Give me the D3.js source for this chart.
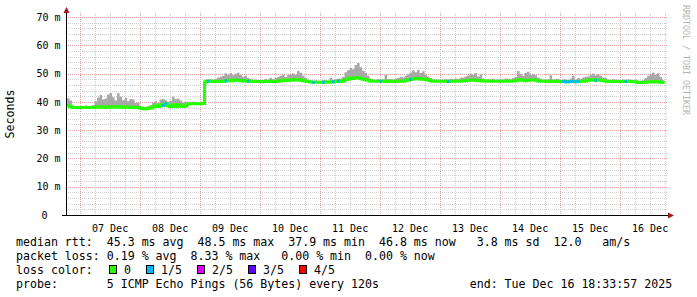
<!DOCTYPE html>
<html>
<head>
<meta charset="utf-8">
<script src="https://cdn.jsdelivr.net/npm/d3@7/dist/d3.min.js"></script>
<style>
  body { margin: 0; background: #fff; }
  text { font-family: "DejaVu Sans Mono", monospace; }
</style>
</head>
<body>
<svg id="chart" width="697" height="297"></svg>
<script>
// hourly samples, first one at Dec 6 19:00 (UTC), last one Dec 16 18:00
const firstSample = Date.UTC(2025, 11, 6, 19, 0, 0);
const endTime = new Date(Date.UTC(2025, 11, 16, 18, 33, 57));
const startTime = new Date(endTime.getTime() - 10 * 864e5);

// median rtt in ms, one value per hour
const medianRtt = [
  38.6,38.3,38.0,38.0,38.0,
  // 07 Dec
  38.0,38.0,38.0,38.0,38.0,38.0,38.2,38.1,38.3,38.2,38.0,38.1,38.3,38.2,38.1,38.4,38.2,38.0,38.1,38.2,38.0,38.1,38.0,38.0,
  // 08 Dec
  37.7,37.6,37.6,37.7,37.8,38.3,38.6,38.4,39.0,38.7,39.4,38.6,38.4,38.9,38.3,39.0,38.5,38.4,38.6,39.2,39.3,39.3,39.3,39.3,
  // 09 Dec
  39.3,39.4,47.0,47.3,47.3,47.2,47.3,47.2,47.2,47.3,47.4,47.5,47.6,47.5,47.7,47.6,47.5,47.4,47.5,47.3,47.3,47.2,47.2,47.2,
  // 10 Dec
  47.2,47.1,47.2,47.2,47.3,47.2,47.2,47.3,47.5,47.6,47.5,47.7,47.6,47.8,47.7,47.9,47.6,47.5,47.4,47.2,47.0,46.9,46.9,46.9,
  // 11 Dec
  46.9,46.9,47.0,46.9,47.0,47.1,47.2,47.3,47.2,47.4,47.8,48.1,48.4,48.3,48.6,48.4,48.3,48.0,47.8,47.6,47.4,47.3,47.3,47.3,
  // 12 Dec
  47.3,47.3,47.2,47.3,47.3,47.2,47.3,47.3,47.4,47.3,47.5,47.7,47.9,48.1,48.3,48.2,48.0,48.2,47.9,47.7,47.5,47.3,47.3,47.3,
  // 13 Dec
  47.3,47.3,47.3,47.2,47.3,47.3,47.3,47.3,47.4,47.4,47.5,47.6,47.6,47.7,47.6,47.5,47.6,47.4,47.4,47.3,47.3,47.3,47.3,47.3,
  // 14 Dec
  47.3,47.3,47.3,47.4,47.3,47.4,47.4,47.7,47.8,47.6,47.5,47.6,47.7,47.8,47.6,47.4,47.3,47.3,47.3,47.3,47.2,47.3,47.3,47.2,
  // 15 Dec
  47.2,47.2,47.1,47.1,47.2,47.2,47.1,47.2,47.3,47.3,47.4,47.6,47.8,47.7,47.6,47.8,47.6,47.5,47.4,47.2,47.2,47.2,47.2,47.2,
  // 16 Dec
  47.2,47.2,47.2,47.2,47.2,47.1,47.1,46.8,46.8,46.8,46.9,47.0,47.1,47.0,47.2,47.0,46.9,46.8,46.8
];

// top of the smoke (slowest ping) in ms, per hour
const smokeTop = [
  41.3,40.5,38.6,38.5,38.5,
  38.6,38.5,38.7,38.5,38.6,38.8,40.2,41.5,42.4,40.8,41.2,42.6,43.1,41.6,40.5,43.0,41.8,40.6,41.4,40.2,41.0,40.8,39.6,39.8,
  38.4,38.2,38.3,38.4,38.8,39.6,40.2,39.5,40.8,41.0,40.6,40.0,40.4,41.8,40.9,41.2,40.5,39.8,40.0,40.0,39.8,40.0,39.9,39.8,
  39.9,40.0,47.8,47.9,48.0,47.8,48.1,48.6,48.9,49.2,50.1,49.6,50.2,49.4,49.9,50.3,49.5,48.9,49.2,48.4,48.0,47.8,47.9,47.7,
  47.8,47.7,48.2,47.9,48.5,48.0,48.4,48.8,49.2,49.6,48.8,49.5,49.8,50.0,49.6,50.9,50.3,49.2,48.4,47.8,47.5,47.4,47.6,47.5,
  47.5,47.6,47.7,47.5,48.5,47.8,48.0,48.2,48.3,48.8,50.5,51.2,52.0,51.5,53.0,53.7,52.2,51.0,50.2,49.2,48.2,47.9,47.8,48.0,
  47.9,48.0,49.5,48.1,48.0,47.9,48.3,48.4,48.8,48.6,49.2,49.8,50.4,51.2,50.5,51.3,50.2,50.8,49.6,49.0,48.4,47.9,48.0,47.8,
  47.9,47.8,48.0,47.9,48.2,48.0,48.3,48.1,48.5,48.6,49.0,49.3,49.9,49.5,50.2,49.0,49.8,48.3,48.0,47.9,48.0,48.1,47.8,47.9,
  48.0,47.9,48.3,48.2,48.0,48.4,48.8,50.9,49.8,49.2,50.2,50.6,49.6,49.8,49.4,48.6,48.2,47.9,47.8,48.0,49.4,47.9,48.0,48.2,
  47.8,47.9,48.0,47.7,48.3,49.3,47.8,48.4,48.2,48.6,48.9,49.0,49.6,50.0,49.4,49.8,49.2,48.6,48.4,47.8,47.8,48.0,47.9,47.8,
  47.8,47.9,47.8,48.0,47.8,47.7,47.8,47.4,47.5,47.6,48.4,49.2,49.8,50.4,49.6,50.1,48.8,47.6,47.4
];

// hours (index into the arrays above) with packet loss, and lost pings of 5
const lossHours = [38, 39, 56, 63, 72, 98, 102, 106, 108, 125, 137, 152, 198, 199, 200, 201, 202, 203, 204, 211, 223];
const lossCounts = [1, 1, 1, 1, 1, 1, 1, 1, 1, 1, 1, 1, 1, 1, 1, 1, 1, 1, 1, 1, 1];

const lossLabels = ["0", "1/5", "2/5", "3/5", "4/5"];
const lossColors = ["#26ff00", "#00b8ff", "#dd00ff", "#5e00ff", "#ff0000"];

const yTicks = [0, 10, 20, 30, 40, 50, 60, 70];
const yTickLabels = ["0", "10 m", "20 m", "30 m", "40 m", "50 m", "60 m", "70 m"];
const xTickLabels = ["07 Dec", "08 Dec", "09 Dec", "10 Dec", "11 Dec", "12 Dec", "13 Dec", "14 Dec", "15 Dec", "16 Dec"];

const legendLines = [
  "median rtt:  45.3 ms avg  48.5 ms max  37.9 ms min  46.8 ms now   3.8 ms sd  12.0   am/s",
  "packet loss: 0.19 % avg  8.33 % max   0.00 % min  0.00 % now",
  "loss color:",
  "probe:       5 ICMP Echo Pings (56 Bytes) every 120s             end: Tue Dec 16 18:33:57 2025"
];

const svg = d3.select("#chart");
const plotLeft = 66, plotRight = 666, plotTop = 17, plotBottom = 215;

const x = d3.scaleUtc().domain([startTime, endTime]).range([plotLeft, plotRight]);
const y = d3.scaleLinear().domain([0, 70]).range([plotBottom, plotTop]);

const px = v => Math.round(v) + 0.5;
const data = medianRtt.map((m, i) => ({ t: new Date(firstSample + i * 3600e3), m: m, hi: smokeTop[i] }));

// grid
const grid = svg.append("g");
x.ticks(d3.utcHour.every(6)).forEach(d => {
  const major = d.getUTCHours() === 0;
  grid.append("line")
    .attr("x1", px(x(d))).attr("x2", px(x(d)))
    .attr("y1", 13).attr("y2", plotBottom)
    .attr("stroke", major ? "#e4a4a4" : "#cfcfcf")
    .attr("stroke-dasharray", "1,1");
});
d3.range(2, 71, 2).forEach(v => {
  const major = v % 10 === 0;
  grid.append("line")
    .attr("x1", plotLeft).attr("x2", 668)
    .attr("y1", px(y(v))).attr("y2", px(y(v)))
    .attr("stroke", major ? "#e4a4a4" : "#cfcfcf")
    .attr("stroke-dasharray", "1,1");
});

// smoke
const smoke = d3.area()
  .x(d => x(d.t))
  .y0(d => y(d.m))
  .y1(d => y(d.hi))
  .curve(d3.curveStepAfter);
svg.append("path").datum(data)
  .attr("d", smoke)
  .attr("fill", "#a8a8a8");

// median line, coloured by loss
const medLine = d3.line()
  .x(d => x(d.t))
  .y(d => y(d.m))
  .curve(d3.curveStepAfter);
svg.append("path").datum(data)
  .attr("d", medLine)
  .attr("fill", "none")
  .attr("stroke", lossColors[0])
  .attr("stroke-width", 3);

lossHours.forEach((h, i) => {
  const seg = [data[h], { t: new Date(firstSample + (h + 1) * 3600e3), m: data[h].m }];
  svg.append("path").datum(seg)
    .attr("d", medLine)
    .attr("fill", "none")
    .attr("stroke", lossColors[lossCounts[i]])
    .attr("stroke-width", 3);
});

// axes
const yAxis = svg.append("g")
  .attr("transform", `translate(${plotLeft + 0.5},0)`)
  .call(d3.axisLeft(y).tickValues(yTicks).tickSize(0).tickPadding(6)
    .tickFormat((d, i) => yTickLabels[i]));
yAxis.select(".domain").remove();
yAxis.selectAll("text")
  .attr("font-family", "DejaVu Sans Mono")
  .attr("font-size", 10)
  .attr("fill", "#000")
  .attr("x", d => d === 0 ? -19 : -6);

const noon = d3.utcDay.range(new Date(Date.UTC(2025, 11, 7)), new Date(Date.UTC(2025, 11, 17)))
  .map(d => d3.utcHour.offset(d, 12));
const xAxis = svg.append("g")
  .attr("transform", `translate(0,${plotBottom})`)
  .call(d3.axisBottom(x).tickValues(noon).tickSize(0).tickPadding(10)
    .tickFormat((d, i) => xTickLabels[i]));
xAxis.select(".domain").remove();
xAxis.selectAll("text")
  .attr("font-family", "DejaVu Sans Mono")
  .attr("font-size", 10)
  .attr("fill", "#000");

svg.append("line")
  .attr("x1", plotLeft + 0.5).attr("x2", plotLeft + 0.5)
  .attr("y1", 12).attr("y2", plotBottom + 1)
  .attr("stroke", "#000");
svg.append("line")
  .attr("x1", 62).attr("x2", 669)
  .attr("y1", plotBottom + 0.5).attr("y2", plotBottom + 0.5)
  .attr("stroke", "#000");
svg.append("path")
  .attr("d", `M${plotLeft - 2.5},13 L${plotLeft + 0.5},7 L${plotLeft + 3.5},13 Z`)
  .attr("fill", "#a01818");
svg.append("path")
  .attr("d", `M668,${plotBottom - 2.5} L674,${plotBottom + 0.5} L668,${plotBottom + 3.5} Z`)
  .attr("fill", "#a01818");

// titles
svg.append("text")
  .attr("transform", "translate(14,114) rotate(-90)")
  .attr("text-anchor", "middle")
  .attr("font-size", 11.6)
  .text("Seconds");
svg.append("text")
  .attr("transform", "translate(683,5) rotate(90)")
  .attr("font-size", 8.3)
  .attr("fill", "#b4b4b4")
  .text("RRDTOOL / TOBI OETIKER");

// legend
const legend = svg.append("g");
legendLines.forEach((line, i) => {
  legend.append("text")
    .attr("x", 16).attr("y", 245.5 + i * 14)
    .attr("font-size", 11.6)
    .style("white-space", "pre")
    .text(line);
});
let lx = 109;
lossLabels.forEach((lab, i) => {
  legend.append("rect")
    .attr("x", lx + 0.5).attr("y", 265.5)
    .attr("width", 7).attr("height", 8)
    .attr("fill", lossColors[i])
    .attr("stroke", "#000");
  legend.append("text")
    .attr("x", lx + 15).attr("y", 273.5)
    .attr("font-size", 11.6)
    .text(lab);
  lx += 15 + lab.length * 7 + 15;
});
</script>
</body>
</html>
